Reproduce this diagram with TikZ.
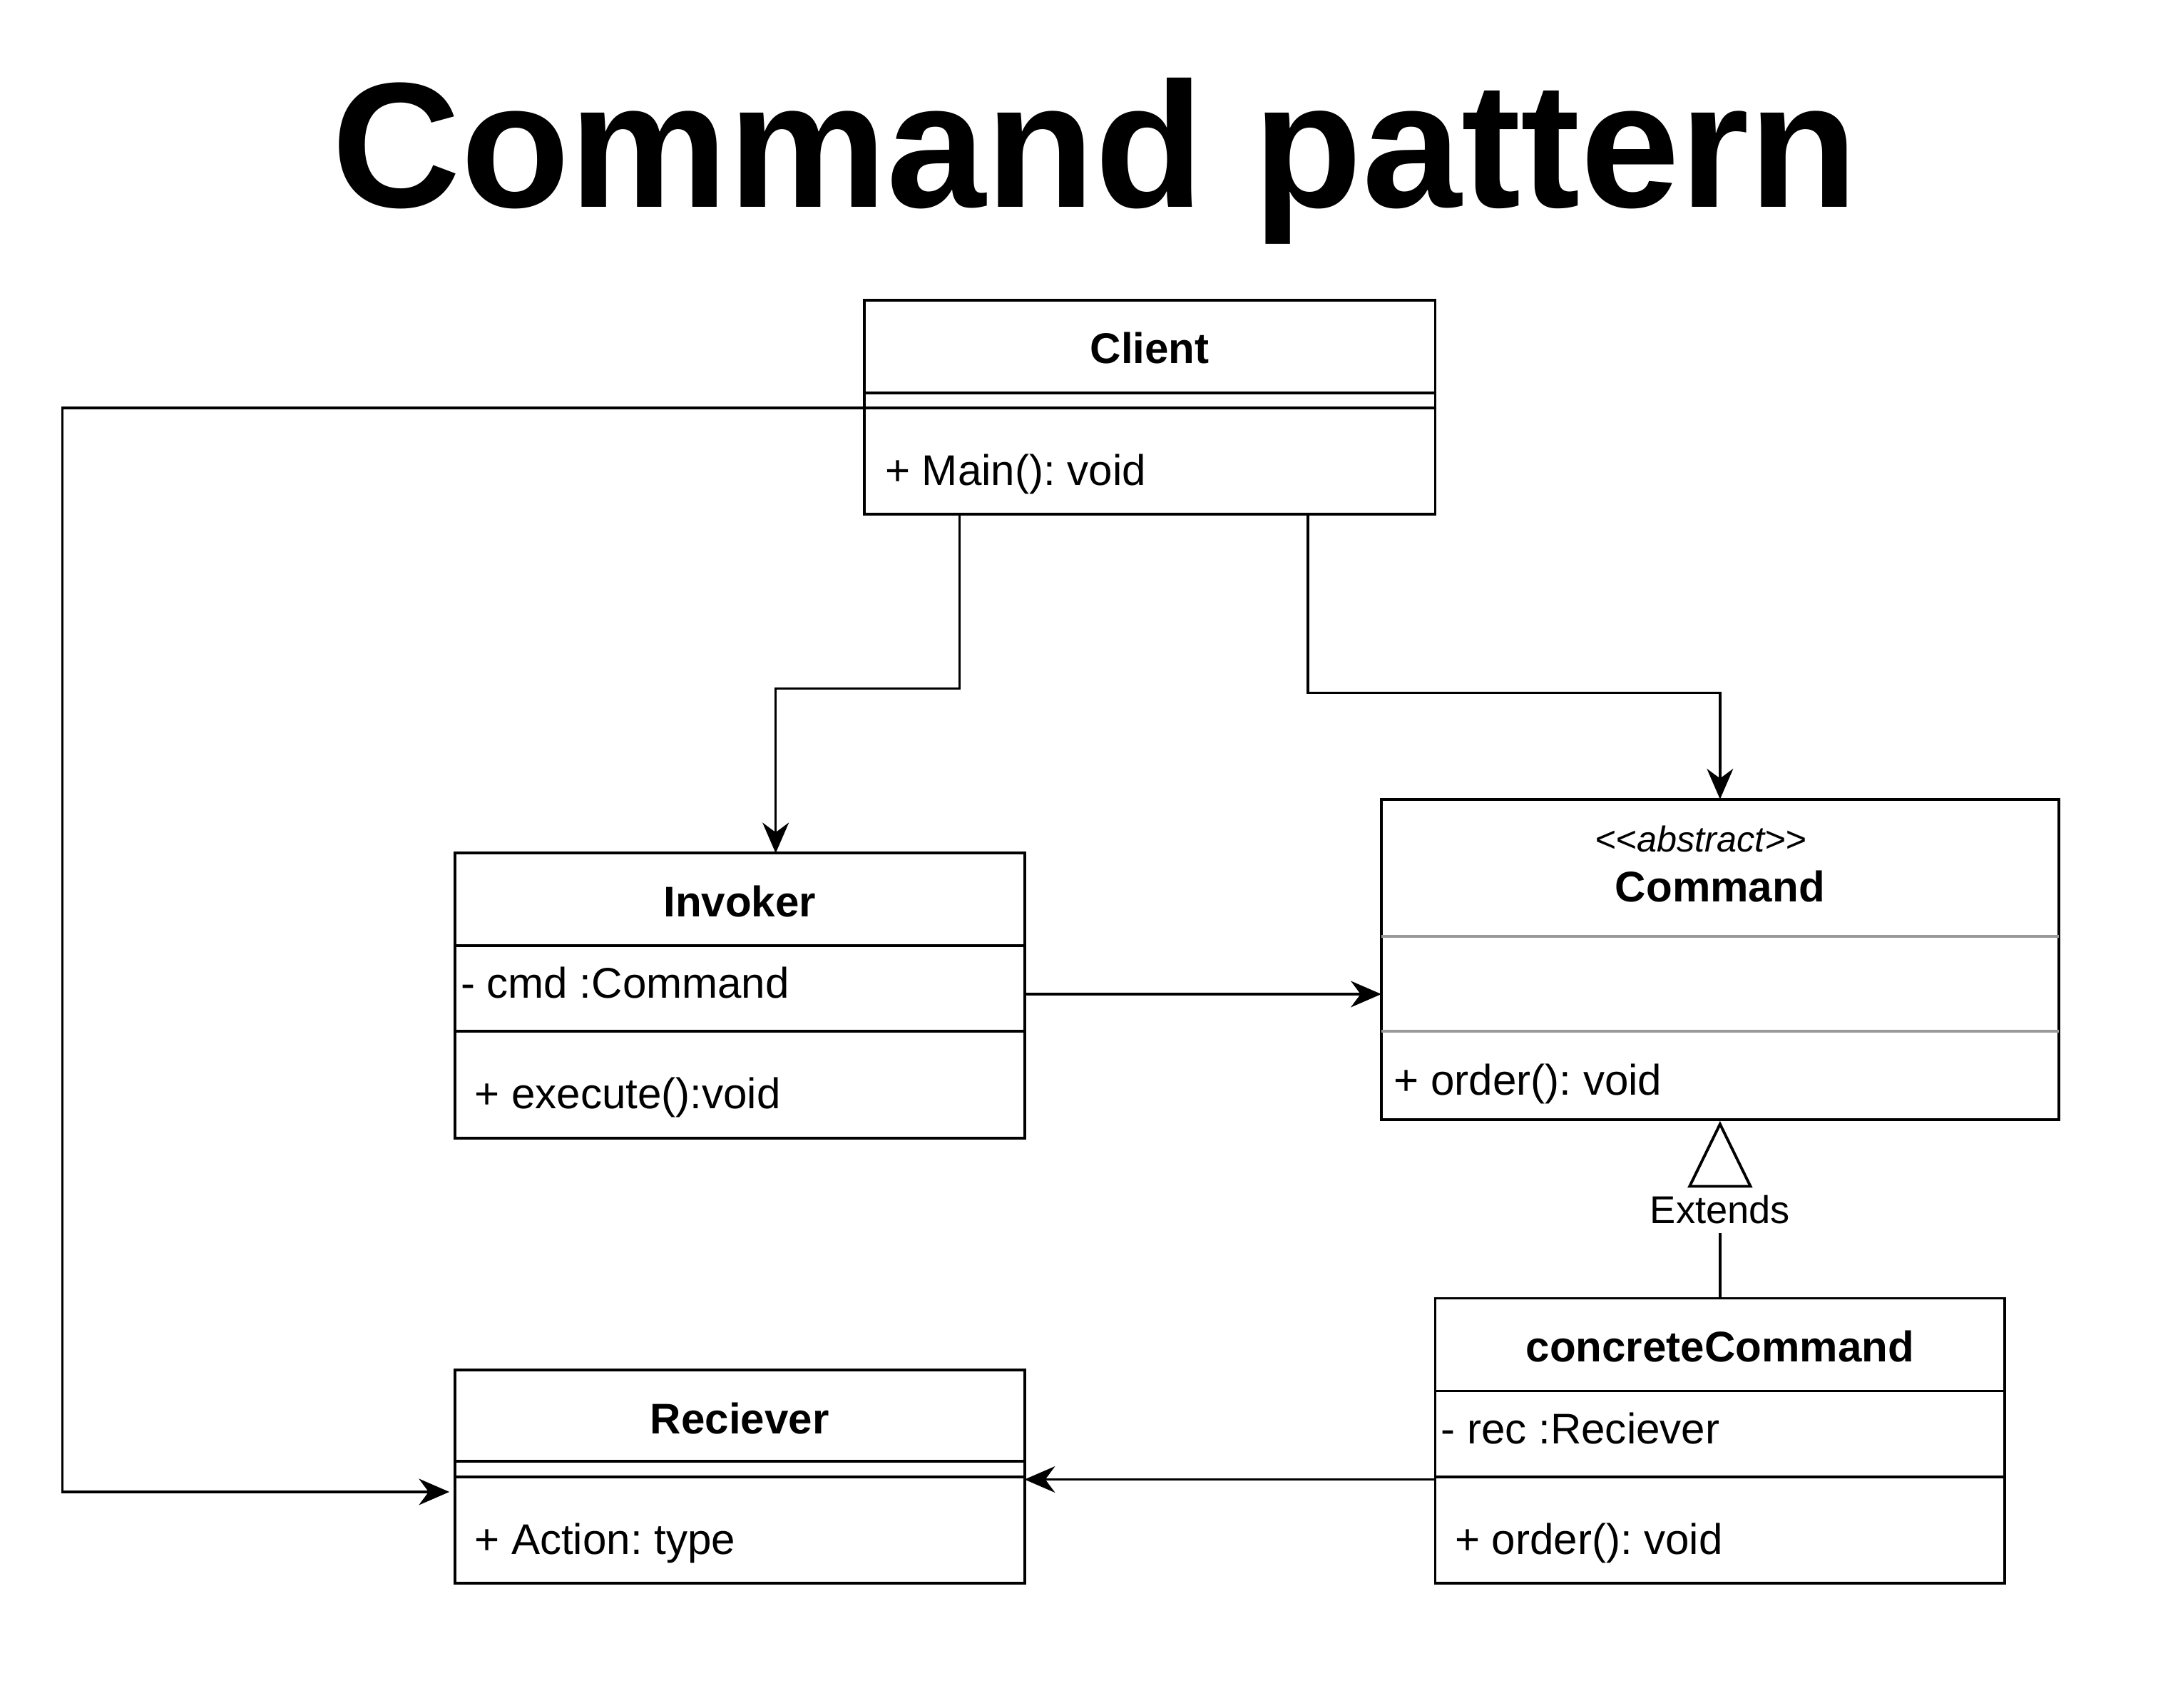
\documentclass[tikz,border=0pt]{standalone}
\usepackage{fontspec}
\setmainfont{Liberation Sans}
\usetikzlibrary{arrows.meta}
\newcommand\txtsize{\fontsize{31}{37}\selectfont}
\begin{document}
\frenchspacing
\begin{tikzpicture}[x=1pt,y=-1pt,
  umlbox/.style={draw, line width=2pt, inner sep=0pt, outer sep=0pt, anchor=north west},
  bar/.style={line width=2pt},
  graybar/.style={line width=2pt, draw=black!40},
  arr/.style={line width=1.8pt, -{Stealth[length=22pt,width=19pt,inset=7pt]}},
  cname/.style={anchor=base, inner sep=0pt, font=\txtsize\bfseries},
  member/.style={anchor=base west, inner sep=0pt, font=\txtsize},
]
\useasboundingbox (0,0) rectangle (1568,1235);

% title
\node[anchor=base, inner sep=0pt, font=\fontsize{129}{140}\selectfont\bfseries] (title) at (792,150) {Command pattern};

% class boxes
\node[umlbox, minimum width=413pt, minimum height=155pt] (client)   at (625,217) {};
\node[umlbox, minimum width=412pt, minimum height=206pt] (invoker)  at (329,617) {};
\node[umlbox, minimum width=490pt, minimum height=232pt] (command)  at (999,578) {};
\node[umlbox, minimum width=412pt, minimum height=206pt] (concrete) at (1038,939) {};
\node[umlbox, minimum width=412pt, minimum height=154pt] (reciever) at (329,991) {};

% compartment separators
\draw[bar] (client.west |- 0,284) -- (client.east |- 0,284);
\draw[bar] (client.west |- 0,295) -- (client.east |- 0,295);
\draw[bar] (invoker.west |- 0,684) -- (invoker.east |- 0,684);
\draw[bar] (invoker.west |- 0,746) -- (invoker.east |- 0,746);
\draw[graybar] (command.west |- 0,677) -- (command.east |- 0,677);
\draw[graybar] (command.west |- 0,746) -- (command.east |- 0,746);
\draw[bar] (concrete.west |- 0,1006) -- (concrete.east |- 0,1006);
\draw[bar] (concrete.west |- 0,1068) -- (concrete.east |- 0,1068);
\draw[bar] (reciever.west |- 0,1057) -- (reciever.east |- 0,1057);
\draw[bar] (reciever.west |- 0,1068) -- (reciever.east |- 0,1068);

% class names and members
\node[cname] (clientname) at (client.north |- 0,263) {Client};
\node[member] (clientop) at (640,351) {+ Main(): void};

\node[cname] (invokername) at (invoker.north |- 0,663) {Invoker};
\node[member] (invokerattr) at (333,722) {- cmd :Command};
\node[member] (invokerop) at (343,802) {+ execute():void};

\node[anchor=base, inner sep=0pt, font=\fontsize{26}{32}\selectfont\itshape] (stereo) at (1230,616) {<\kern0pt<abstract>\kern0pt>};
\node[cname] (commandname) at (command.north |- 0,652) {Command};
\node[member] (commandop) at (1008,792) {+ order(): void};

\node[cname] (concretename) at (concrete.north |- 0,985) {concreteCommand};
\node[member] (concreteattr) at (1042,1044) {- rec :Reciever};
\node[member] (concreteop) at (1052,1124) {+ order(): void};

\node[cname] (recievername) at (reciever.north |- 0,1037) {Reciever};
\node[member] (recieverop) at (343,1124) {+ Action: type};

% associations
\draw[arr] (client.south -| 694,0) -- (694,498) -| ([xshift=26pt]invoker.north);
\draw[arr] (client.south -| 946,0) -- (946,501) -| (command.north);
\draw[arr] (client.west |- 0,295) -| (45,1079) -- ([xshift=-4pt]reciever.west |- 0,1079);
\draw[arr] (invoker.east |- 0,719) -- (command.west |- 0,719);
\draw[arr] (concrete.west |- 0,1070) -- (reciever.east |- 0,1070);

% generalisation
\node[anchor=base, inner sep=0pt, font=\fontsize{28}{32}\selectfont] (extends) at (command.south |- 0,885) {Extends};
\coordinate (extbase) at (1244,892);
\draw[bar] (concrete.north) -- (extbase);
\draw[line width=2pt, fill=white, line join=miter] ([yshift=-3pt]command.south) -- ++(-22,45) -- ++(44,0) -- cycle;
\end{tikzpicture}
\end{document}
